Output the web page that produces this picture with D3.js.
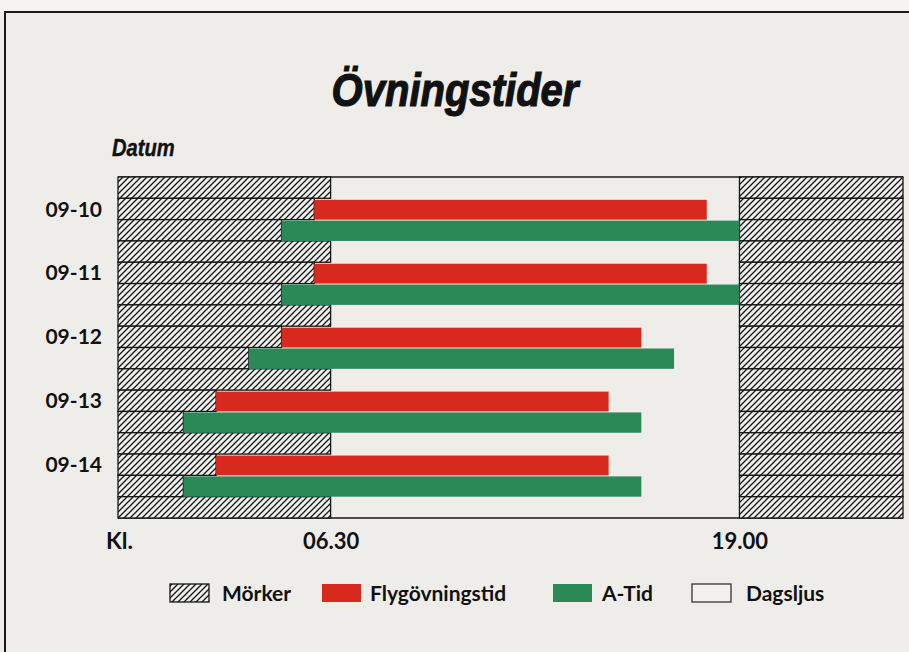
<!DOCTYPE html>
<html>
<head>
<meta charset="utf-8">
<script src="https://cdn.jsdelivr.net/npm/d3@7/dist/d3.min.js"></script>
<style>
  html, body { margin: 0; padding: 0; background: #eeede9; }
  svg { display: block; }
</style>
</head>
<body>
<div id="chart"></div>
<script>
// ---- data ----
const dates = ["09-10", "09-11", "09-12", "09-13", "09-14"];
const flygStart = [6, 6, 5, 3, 3];
const flygEnd   = [18, 18, 16, 15, 15];
const aStart    = [5, 5, 4, 2, 2];
const aEnd      = [19, 19, 17, 16, 16];
const sunrise = 6.5;
const sunset = 19;
const dayStart = 0, dayEnd = 24;
const xTicks = [6.5, 19];
const xTickLabels = ["06.30", "19.00"];
const legendLabels = ["Mörker", "Flygövningstid", "A-Tid", "Dagsljus"];

const W = 909, H = 652;
const RED = "#d8291e", GREEN = "#2a8a57", BG = "#eeede9";

const svg = d3.select("#chart").append("svg").attr("width", W).attr("height", H);

const defs = svg.append("defs");
const pat = defs.append("pattern").attr("id", "hatch")
  .attr("patternUnits", "userSpaceOnUse").attr("width", 6).attr("height", 6);
pat.append("rect").attr("width", 6).attr("height", 6).attr("fill", "#f0f0ee");
pat.append("path").attr("d", "M-1,1 l2,-2 M0,6 l6,-6 M5,7 l2,-2")
  .attr("stroke", "#151515").attr("stroke-width", 1.3);

// page
svg.append("rect").attr("width", W).attr("height", H).attr("fill", BG);
svg.append("rect").attr("width", W).attr("height", 12).attr("fill", "#f4f3ef");
svg.append("path").attr("d", `M5,${H} V12 H${W}`).attr("fill", "none")
  .attr("stroke", "#1a1a1a").attr("stroke-width", 2);

// title (condensed via horizontal scale)
svg.append("text").attr("transform", "translate(455,106) scale(0.87,1)").attr("text-anchor", "middle")
  .attr("font-family", "'Liberation Sans', Arial, sans-serif").attr("font-weight", 700)
  .attr("font-style", "italic").attr("font-size", 46)
  .attr("stroke", "#111").attr("stroke-width", 1.2)
  .attr("fill", "#111").text("Övningstider");

svg.append("text").attr("transform", "translate(112,156) scale(0.84,1)")
  .attr("font-family", "'Liberation Sans', Arial, sans-serif").attr("font-weight", 700)
  .attr("font-style", "italic").attr("font-size", 24)
  .attr("stroke", "#111").attr("stroke-width", 0.4)
  .attr("fill", "#111").text("Datum");

// rows
const rowIds = [];
const rowInfo = {};
dates.forEach((d, i) => {
  rowIds.push("e" + i); rowInfo["e" + i] = { type: "e", i };
  rowIds.push("f" + i); rowInfo["f" + i] = { type: "f", i };
  rowIds.push("a" + i); rowInfo["a" + i] = { type: "a", i };
});
rowIds.push("e" + dates.length); rowInfo["e" + dates.length] = { type: "e", i: dates.length };

const x = d3.scaleLinear().domain([dayStart, dayEnd]).range([118, 903]);
const y = d3.scaleBand().domain(rowIds).range([177, 518]).padding(0);
const bh = y.bandwidth();

function leftEnd(id) {
  const r = rowInfo[id];
  if (r.type === "f") return flygStart[r.i];
  if (r.type === "a") return aStart[r.i];
  return sunrise;
}

const g = svg.append("g");
// top & bottom lines across
g.append("line").attr("x1", x(dayStart)).attr("x2", x(dayEnd))
  .attr("y1", y.range()[0]).attr("y2", y.range()[0]).attr("stroke", "#1a1a1a").attr("stroke-width", 1.6);
g.append("line").attr("x1", x(dayStart)).attr("x2", x(dayEnd))
  .attr("y1", y.range()[1]).attr("y2", y.range()[1]).attr("stroke", "#1a1a1a").attr("stroke-width", 1.6);

// darkness (left)
g.selectAll("rect.darkL").data(rowIds).join("rect").attr("class", "darkL")
  .attr("x", x(dayStart)).attr("y", d => y(d))
  .attr("width", d => x(leftEnd(d)) - x(dayStart)).attr("height", bh)
  .attr("fill", "url(#hatch)").attr("stroke", "#151515").attr("stroke-width", 1.3);
// darkness (right)
g.selectAll("rect.darkR").data(rowIds).join("rect").attr("class", "darkR")
  .attr("x", x(sunset)).attr("y", d => y(d))
  .attr("width", x(dayEnd) - x(sunset)).attr("height", bh)
  .attr("fill", "url(#hatch)").attr("stroke", "#151515").attr("stroke-width", 1.3);

// bars
g.selectAll("rect.flyg").data(dates).join("rect").attr("class", "flyg")
  .attr("x", (d, i) => x(flygStart[i])).attr("y", (d, i) => y("f" + i) + 1.5)
  .attr("width", (d, i) => x(flygEnd[i]) - x(flygStart[i])).attr("height", bh - 1.5)
  .attr("fill", RED);
g.selectAll("rect.atid").data(dates).join("rect").attr("class", "atid")
  .attr("x", (d, i) => x(aStart[i])).attr("y", (d, i) => y("a" + i) + 1)
  .attr("width", (d, i) => x(aEnd[i]) - x(aStart[i])).attr("height", bh - 1)
  .attr("fill", GREEN);

// y axis labels (dates on the red rows)
const yAxis = d3.axisLeft(y).tickValues(dates.map((d, i) => "f" + i))
  .tickFormat(id => dates[rowInfo[id].i]).tickSize(0).tickPadding(16);
const ya = svg.append("g").attr("transform", `translate(${x(dayStart)},0)`).call(yAxis);
ya.select(".domain").remove();
ya.selectAll("text").attr("font-family", "Lato, 'Open Sans', sans-serif").attr("font-weight", 700)
  .attr("font-size", 21).attr("fill", "#111").attr("dy", "0.36em");

// x axis labels
const xAxis = d3.axisBottom(x).tickValues(xTicks).tickFormat((d, i) => xTickLabels[i]).tickSize(0);
const xa = svg.append("g").attr("transform", `translate(0,${y.range()[1]})`).call(xAxis);
xa.select(".domain").remove();
xa.selectAll("text").attr("font-family", "Lato, 'Open Sans', sans-serif").attr("font-weight", 700)
  .attr("font-size", 22).attr("fill", "#111").attr("y", 0).attr("dy", 31);

svg.append("text").attr("x", 106).attr("y", 549)
  .attr("font-family", "Lato, 'Open Sans', sans-serif").attr("font-weight", 700)
  .attr("font-size", 23).attr("fill", "#111").text("Kl.");

// legend
const legX = [170, 322, 553, 692];
const legTX = [222, 370, 602, 746];
const legFill = ["url(#hatch)", RED, GREEN, "#f2f1ed"];
const legStroke = ["#151515", "none", "none", "#333"];
const leg = svg.append("g");
legendLabels.forEach((lab, i) => {
  leg.append("rect").attr("x", legX[i]).attr("y", 584).attr("width", 39).attr("height", 18)
    .attr("fill", legFill[i]).attr("stroke", legStroke[i]).attr("stroke-width", 1.3);
  leg.append("text").attr("x", legTX[i]).attr("y", 601)
    .attr("font-family", "Lato, 'Open Sans', sans-serif").attr("font-weight", 700)
    .attr("font-size", 21).attr("fill", "#111").text(lab);
});
</script>
</body>
</html>
